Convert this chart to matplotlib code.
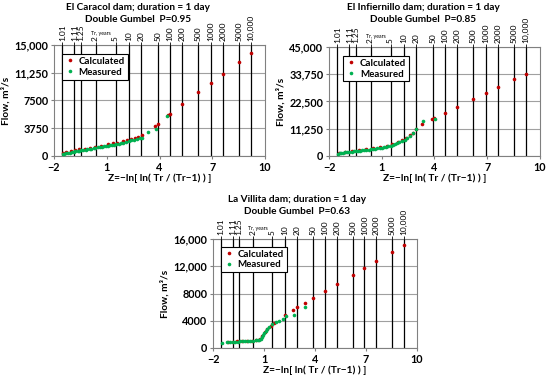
import matplotlib
matplotlib.use('Agg')
import matplotlib.pyplot as plt
import matplotlib.ticker as ticker
import numpy as np

plt.rcParams['font.family'] = ['Lato', 'DejaVu Sans']

# return periods marked along the top axis
tr_years = [1.01, 1.11, 1.25, 2, 5, 10, 20, 50, 100, 200, 500, 1000, 2000, 5000, 10000]
tr_labels = ['1.01', '1.11', '1.25', '2', '5', '10', '20', '50', '100', '200',
             '500', '1000', '2000', '5000', '10,000']

# El Caracol
caracol_calc_z = [-1.48, -1.3, -1.05, -0.8, -0.55, -0.25, 0.05, 0.35, 0.7, 1.05, 1.35, 1.6,
                  1.9, 2.15, 2.4, 2.6, 2.8, 3.0, 3.75, 3.9, 4.5, 4.6, 5.3, 6.21, 6.91,
                  7.6, 8.52, 9.21]
caracol_calc_q = [430, 520, 640, 760, 880, 1000, 1120, 1250, 1400, 1560, 1700, 1810,
                  1980, 2130, 2290, 2430, 2600, 2850, 4020, 4290, 5510, 5690, 7000, 8590,
                  9850, 11070, 12650, 13870]
caracol_meas_z = [-1.5, -1.42, -1.33, -1.22, -1.1, -1.0, -0.88, -0.78, -0.66, -0.55, -0.45,
                  -0.33, -0.2, -0.1, 0.02, 0.12, 0.25, 0.36, 0.48, 0.6, 0.72, 0.83, 0.95,
                  1.05, 1.17, 1.3, 1.42, 1.55, 1.68, 1.8, 1.95, 2.08, 2.25, 2.4, 2.55, 2.72,
                  2.88, 3.02, 3.35, 3.8, 4.45]
caracol_meas_q = [300, 330, 380, 420, 470, 520, 570, 610, 660, 720, 770, 810, 870, 910, 960,
                  1010, 1060, 1110, 1160, 1210, 1260, 1300, 1350, 1390, 1440, 1500, 1550,
                  1610, 1670, 1730, 1820, 1900, 2000, 2100, 2200, 2300, 2400, 2480, 3250,
                  3700, 5420]

# El Infiernillo
infier_calc_z = [-1.45, -1.1, -0.7, -0.3, 0.1, 0.5, 0.9, 1.3, 1.6, 1.9, 2.15, 2.4, 2.6,
                 2.8, 2.97, 3.3, 3.85, 4.0, 4.6, 5.3, 6.21, 6.91, 7.6, 8.52, 9.21]
infier_calc_q = [1100, 1500, 1900, 2300, 2700, 3100, 3600, 4200, 4800, 5600, 6600, 7600,
                 8500, 9500, 11000, 13100, 15300, 15700, 17900, 20400, 23500, 26200,
                 28650, 31800, 34000]
infier_meas_z = [-1.5, -1.4, -1.3, -1.2, -1.08, -0.95, -0.85, -0.72, -0.6, -0.48, -0.36,
                 -0.25, -0.12, 0.0, 0.12, 0.25, 0.38, 0.5, 0.62, 0.75, 0.88, 1.0, 1.12,
                 1.25, 1.38, 1.5, 1.62, 1.75, 1.88, 2.0, 2.15, 2.3, 2.45, 2.62, 2.8, 2.97,
                 3.35, 4.05]
infier_meas_q = [950, 1100, 1250, 1380, 1500, 1620, 1720, 1830, 1930, 2030, 2130, 2230,
                 2350, 2450, 2560, 2680, 2800, 2930, 3060, 3200, 3350, 3500, 3680, 3870,
                 4080, 4300, 4560, 4850, 5200, 5600, 6150, 6800, 7500, 8400, 9500, 11000,
                 14300, 15200]

# La Villita
villita_calc_z = [-1.1, -0.85, -0.6, -0.3, 0.0, 0.3, 0.55, 0.75, 0.9, 1.05, 1.2, 1.4,
                  1.6, 2.25, 2.7, 2.97, 3.39, 3.9, 4.6, 5.3, 6.21, 6.91, 7.6, 8.52, 9.21]
villita_calc_q = [900, 930, 960, 1000, 1040, 1090, 1150, 1250, 1700, 2300, 2800, 3300,
                  3650, 4900, 5600, 5970, 6650, 7350, 8400, 9400, 10700, 11700, 12750,
                  14100, 15150]
villita_meas_z = [-1.45, -1.15, -1.0, -0.85, -0.7, -0.55, -0.4, -0.25, -0.1, 0.05, 0.2,
                  0.35, 0.5, 0.62, 0.72, 0.8, 0.86, 0.92, 1.0, 1.1, 1.2, 1.32, 1.48, 1.7,
                  1.9, 2.1, 2.3, 2.75, 3.39]
villita_meas_q = [800, 850, 880, 900, 920, 950, 970, 990, 1010, 1030, 1060, 1090, 1120,
                  1160, 1220, 1320, 1550, 1850, 2200, 2500, 2800, 3100, 3450, 3800, 4000,
                  4300, 4650, 4900, 5960]

red = '#C00000'
green = '#00B050'


def flow_fmt(v, pos):
    if v >= 10000:
        return '{:,.0f}'.format(v)
    return '{:.0f}'.format(v)


def make_panel(rect, title, ptitle, ymax, ystep, cz, cq, mz, mq, leg_xy, title_xy):
    ax = fig.add_axes(rect)
    tr_z = [-np.log(np.log(t / (t - 1.0))) for t in tr_years]
    ax.set_xlim(-2, 10)
    ax.set_ylim(0, ymax)
    ax.set_xticks([-2, 1, 4, 7, 10])
    ax.xaxis.set_major_formatter(ticker.FuncFormatter(
        lambda v, p: '{:.0f}'.format(v).replace('-', '\u2212')))
    ax.set_yticks(np.arange(0, ymax + 1, ystep))
    ax.yaxis.set_major_formatter(ticker.FuncFormatter(flow_fmt))
    ax.grid(axis='y', color='#a0a0a0', lw=0.8)
    ax.set_axisbelow(True)
    ax.vlines(tr_z, 0, ymax, color='black', lw=0.9, zorder=1)
    ax.plot(cz, cq, 'o', ms=2.6, mew=0, color=red, label='Calculated', zorder=3)
    ax.plot(mz, mq, 'o', ms=2.6, mew=0, color=green, label='Measured', zorder=3)
    for s in ax.spines.values():
        s.set_color('#808080')
        s.set_linewidth(0.8)
    ax.tick_params(axis='both', labelsize=7.8, length=2, pad=2, color='#808080')
    for lab in ax.get_xticklabels() + ax.get_yticklabels():
        lab.set_fontweight('bold')
    ax.set_xlabel('Z=\u2212ln[ ln( Tr / (Tr\u22121) ) ]', fontsize=7.3, fontweight='bold', labelpad=1)
    ax.set_ylabel('Flow, m\u00b3/s', fontsize=7.3, fontweight='bold', labelpad=3)

    top = ax.twiny()
    top.set_xlim(-2, 10)
    top.set_xticks(tr_z)
    top.set_xticklabels(tr_labels, rotation=90, fontsize=6)
    top.tick_params(axis='x', direction='inout', length=4, pad=1, width=0.6)
    for s in top.spines.values():
        s.set_visible(False)
    ax.text(0.22, 1.1, 'Tr, years', transform=ax.transAxes, fontsize=3.8, ha='center', va='center')

    leg = ax.legend(loc='upper left', bbox_to_anchor=leg_xy, fontsize=7, frameon=True,
                    fancybox=False, edgecolor='black', framealpha=1, handlelength=1,
                    handletextpad=0.4, borderpad=0.3, labelspacing=0.2, markerscale=1.0)
    leg.get_frame().set_linewidth(0.8)
    for t in leg.get_texts():
        t.set_fontweight('bold')

    tx, ty = title_xy
    fig.text(tx / 550, 1 - ty / 380, title, fontsize=7.2, fontweight='bold', ha='center', va='center')
    fig.text(tx / 550, 1 - (ty + 12) / 380, ptitle, fontsize=7.2, fontweight='bold', ha='center', va='center')
    return ax


fig = plt.figure(figsize=(5.5, 3.8), dpi=100)

make_panel([54 / 550, 1 - 156 / 380, 211 / 550, 111 / 380],
           'El Caracol dam; duration = 1 day', 'Double Gumbel  P=0.95',
           15000, 3750, caracol_calc_z, caracol_calc_q, caracol_meas_z, caracol_meas_q,
           (0.015, 0.965), (138, 7))
make_panel([329 / 550, 1 - 156 / 380, 211 / 550, 109 / 380],
           'El Infiernillo dam; duration = 1 day', 'Double Gumbel  P=0.85',
           45000, 11250, infier_calc_z, infier_calc_q, infier_meas_z, infier_meas_q,
           (0.045, 0.965), (423, 7))
make_panel([213 / 550, 1 - 348 / 380, 204 / 550, 109 / 380],
           'La Villita dam; duration = 1 day', 'Double Gumbel  P=0.63',
           16000, 4000, villita_calc_z, villita_calc_q, villita_meas_z, villita_meas_q,
           (0.015, 0.975), (297, 200))

fig.savefig('out.png', dpi=100)
